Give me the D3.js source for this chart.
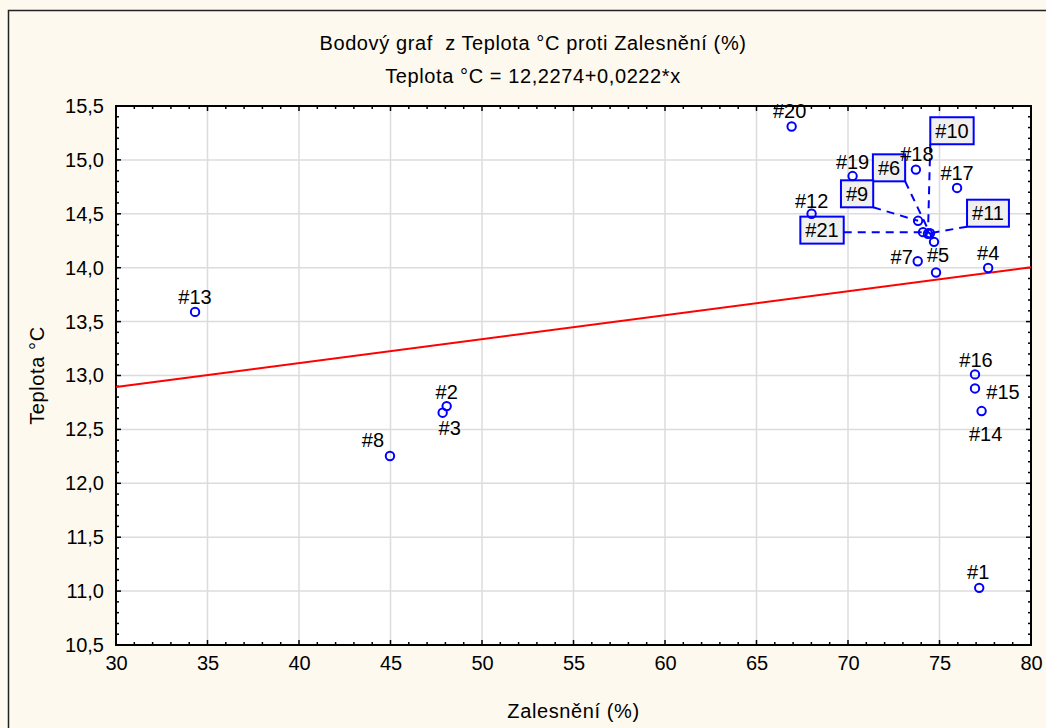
<!DOCTYPE html>
<html>
<head>
<meta charset="utf-8">
<script src="https://cdn.jsdelivr.net/npm/d3@7"></script>
<style>
  body { margin: 0; background: #fdf9ee; }
  svg { display: block; font-family: "Liberation Sans", Arial, sans-serif; }
  text { white-space: pre; }
</style>
</head>
<body>
<svg id="chart" width="1046" height="728"></svg>
<script>
// Scatter plot: Teplota vs Zalesnění

// data
const pointIds = ["#1", "#2", "#3", "#4", "#5", "#6", "#7", "#8", "#9", "#10", "#11",
                  "#12", "#13", "#14", "#15", "#16", "#17", "#18", "#19", "#20", "#21"];
const forest = [77.17, 48.07, 47.85, 77.66, 74.81, 74.70, 73.81, 44.97, 73.83, 74.37, 74.48,
                68.01, 34.32, 77.30, 76.94, 76.94, 75.96, 73.71, 70.25, 66.92, 74.10];
const temperature = [11.03, 12.716, 12.655, 13.997, 13.955, 14.24, 14.06, 12.253, 14.435, 14.315, 14.32,
                     14.50, 13.59, 12.67, 12.88, 13.01, 14.74, 14.91, 14.85, 15.31, 14.33];
const regIntercept = 12.2274;
const regSlope = 0.0222;
const xTicks = [30, 35, 40, 45, 50, 55, 60, 65, 70, 75, 80];
const yTicks = [10.5, 11, 11.5, 12, 12.5, 13, 13.5, 14, 14.5, 15, 15.5];

const titleText = "Bodový graf  z Teplota °C proti Zalesnění (%)";
const subtitleText = "Teplota °C = 12,2274+0,0222*x";
const xLabel = "Zalesnění (%)";
const yLabel = "Teplota °C";

// label placement (pixel offsets from the point), layout only
const labelOffset = {
  "#1": [-1, -16], "#2": [0, -14], "#3": [7, 15], "#4": [0, -15], "#5": [2, -18],
  "#7": [-16, -4], "#8": [-17, -16], "#12": [0, -13], "#13": [0, -15], "#14": [4, 23],
  "#15": [28, 4], "#16": [1, -14], "#17": [0, -15], "#18": [1, -16], "#19": [0, -14],
  "#20": [-2, -15]
};
// boxed callouts: box centre offset from point
const calloutOffset = {
  "#10": [24, -103], "#6": [-45, -74], "#9": [-61, -27], "#21": [-101, -2], "#11": [58, -20]
};

const margin = { top: 106, right: 15, bottom: 83, left: 116 };
const W = 1046, H = 728;
const width = W - margin.left - margin.right;
const height = H - margin.top - margin.bottom;

const svg = d3.select("#chart");

// background + outer frame
svg.append("rect").attr("width", W).attr("height", H).attr("fill", "#fdf9ee");
svg.append("rect")
  .attr("x", 8.5).attr("y", 10.5)
  .attr("width", 1100).attr("height", 800)
  .attr("fill", "none").attr("stroke", "#222").attr("stroke-width", 1.5);

const x = d3.scaleLinear().domain([30, 80]).range([0, width]);
const y = d3.scaleLinear().domain([10.5, 15.5]).range([height, 0]);

const g = svg.append("g").attr("transform", `translate(${margin.left},${margin.top})`);

g.append("rect").attr("width", width).attr("height", height).attr("fill", "#fff");

// grid
g.append("g").selectAll("line").data(xTicks.slice(1, -1)).join("line")
  .attr("x1", d => x(d)).attr("x2", d => x(d))
  .attr("y1", 0).attr("y2", height)
  .attr("stroke", "#dcdcdc").attr("stroke-width", 1.5);
g.append("g").selectAll("line").data(yTicks.slice(1, -1)).join("line")
  .attr("y1", d => y(d)).attr("y2", d => y(d))
  .attr("x1", 0).attr("x2", width)
  .attr("stroke", "#dcdcdc").attr("stroke-width", 1.5);

// tick labels
const fmt = d3.format(".1f");
g.append("g")
  .attr("transform", `translate(0,${height})`)
  .call(d3.axisBottom(x).tickValues(xTicks).tickSize(0).tickPadding(11))
  .call(a => a.select(".domain").remove())
  .selectAll("text").attr("font-size", 20).attr("fill", "#000")
  .attr("font-family", "Liberation Sans, Arial, sans-serif");
g.append("g")
  .call(d3.axisLeft(y).tickValues(yTicks).tickSize(0).tickPadding(12)
    .tickFormat(d => fmt(d).replace(".", ",")))
  .call(a => a.select(".domain").remove())
  .selectAll("text").attr("font-size", 20).attr("fill", "#000")
  .attr("font-family", "Liberation Sans, Arial, sans-serif");

// inside ticks on all four sides
const xMinor = d3.range(30, 80.01, 1);
const yMinor = d3.range(10.5, 15.501, 0.1);
const isMajorX = v => Math.abs(v % 5) < 1e-6;
const isMajorY = v => Math.abs((v * 2) - Math.round(v * 2)) < 1e-6;
const ticks = g.append("g").attr("stroke", "#000").attr("stroke-width", 1.5);
[0, height].forEach((yy, k) => {
  ticks.selectAll(null).data(xMinor).join("line")
    .attr("x1", d => x(d)).attr("x2", d => x(d))
    .attr("y1", yy)
    .attr("y2", d => yy + (k === 0 ? 1 : -1) * (isMajorX(d) ? 5 : 3));
});
[0, width].forEach((xx, k) => {
  ticks.selectAll(null).data(yMinor).join("line")
    .attr("y1", d => y(d)).attr("y2", d => y(d))
    .attr("x1", xx)
    .attr("x2", d => xx + (k === 0 ? 1 : -1) * (isMajorY(d) ? 5 : 3));
});

// plot frame
g.append("rect").attr("width", width).attr("height", height)
  .attr("fill", "none").attr("stroke", "#000").attr("stroke-width", 2);

// regression line
g.append("line")
  .attr("x1", x(30)).attr("y1", y(regIntercept + regSlope * 30))
  .attr("x2", x(80)).attr("y2", y(regIntercept + regSlope * 80))
  .attr("stroke", "#ff0000").attr("stroke-width", 2);

const pts = pointIds.map((id, i) => ({ id, px: x(forest[i]), py: y(temperature[i]) }));

// callout leaders + boxes
const boxH = 27;
const callouts = pts.filter(p => calloutOffset[p.id]);
const cg = g.append("g");
callouts.forEach(p => {
  const [ox, oy] = calloutOffset[p.id];
  const cx = p.px + ox, cy = p.py + oy;
  const t = cg.append("text")
    .attr("x", cx).attr("y", cy).attr("dy", "0.35em")
    .attr("text-anchor", "middle").attr("font-size", 20).text(p.id);
  const bw = t.node().getComputedTextLength() + 10;
  const x0 = cx - bw / 2, y0 = cy - boxH / 2;
  // nearest point on box to the data point
  const lx = Math.max(x0, Math.min(p.px, x0 + bw));
  const ly = Math.max(y0, Math.min(p.py, y0 + boxH));
  cg.insert("line", "text")
    .attr("x1", lx).attr("y1", ly).attr("x2", p.px).attr("y2", p.py)
    .attr("stroke", "#0000ff").attr("stroke-width", 2).attr("stroke-dasharray", "8,6");
  cg.insert("rect", "text")
    .attr("x", x0).attr("y", y0).attr("width", bw).attr("height", boxH)
    .attr("fill", "#f0f0f0").attr("stroke", "#0000ff").attr("stroke-width", 2);
  t.raise();
});

// points
g.append("g").selectAll("circle").data(pts).join("circle")
  .attr("cx", d => d.px).attr("cy", d => d.py).attr("r", 4.2)
  .attr("fill", "none").attr("stroke", "#0000ff").attr("stroke-width", 2);

// plain labels
g.append("g").selectAll("text").data(pts.filter(p => labelOffset[p.id])).join("text")
  .attr("x", d => d.px + labelOffset[d.id][0])
  .attr("y", d => d.py + labelOffset[d.id][1])
  .attr("dy", "0.35em").attr("text-anchor", "middle")
  .attr("font-size", 20).text(d => d.id);

// titles
const label = (tx, ty, str, rot) => svg.append("text")
  .attr("transform", `translate(${tx},${ty})` + (rot ? " rotate(-90)" : ""))
  .attr("text-anchor", "middle").attr("font-size", 20)
  .attr("letter-spacing", 0.6).text(str);
label(533, 50, titleText);
label(533, 83, subtitleText);
label(margin.left + width / 2, 718, xLabel);
label(44, margin.top + height / 2, yLabel, true);
</script>
</body>
</html>
